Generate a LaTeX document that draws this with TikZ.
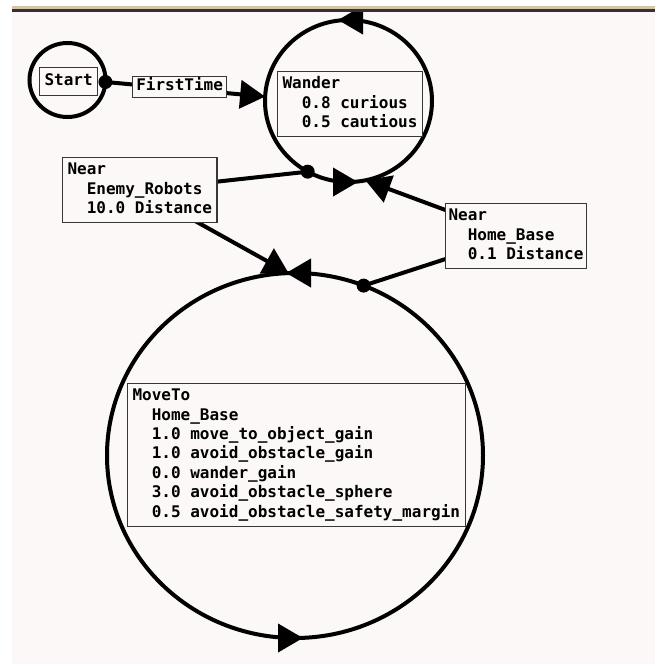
\documentclass[tikz,border=0pt]{standalone}
\usepackage{fontspec}
\setmonofont{DejaVu Sans Mono}
\usetikzlibrary{arrows.meta,shapes.geometric,calc}
\definecolor{paper}{RGB}{252,248,247}
\definecolor{tanband}{RGB}{214,196,168}
\definecolor{ruleline}{RGB}{50,50,50}
\definecolor{boxline}{RGB}{55,55,55}
\pgfdeclarelayer{bglayer}\pgfdeclarelayer{wires}\pgfsetlayers{bglayer,wires,main}
\newcommand\indt{\hphantom{00}}
\begin{document}
\begin{tikzpicture}[x=1pt,y=-1pt,
  state/.style={ellipse, draw, line width=4pt, inner sep=0pt, outer sep=0pt},
  lbl/.style={draw=boxline, line width=1.1pt, fill=paper, anchor=north west,
    font=\ttfamily\bfseries\fontsize{16}{19.4}\selectfont, inner xsep=5pt, inner ysep=3.5pt},
  multi/.style={lbl, align=left},
  wire/.style={line width=4pt, line cap=butt},
  arrowend/.style={-{Triangle[length=25pt,width=28pt]}},
  ]
\useasboundingbox (0,0) rectangle (655,664);
\begin{pgfonlayer}{bglayer}
  \fill[white] (0,0) rectangle (655,664);
  \fill[paper] (12,12) rectangle (655,664);
\end{pgfonlayer}

% states
\node[state, minimum width=76pt, minimum height=74pt] (startc) at (67.5,80) {};
\node[state, minimum width=167pt, minimum height=162pt] (wanderc) at (348.5,101) {};
\node[state, minimum width=376pt, minimum height=365pt] (movec) at (295,455.5) {};

% labels
\node[lbl, inner ysep=4.3pt] (startbox) at (39,67) {\strut Start};
\node[lbl, inner xsep=3.7pt, inner ysep=0.8pt] (ftbox) at (132,76) {\strut FirstTime};
\node[multi] (wbox) at (277,71) {\strut Wander\\\strut\indt0.8 curious\\\strut\indt0.5 cautious};
\node[multi] (nebox) at (62,157) {\strut Near\\\strut\indt Enemy\_Robots\\\strut\indt10.0 Distance};
\node[multi, inner xsep=3pt] (nhbox) at (445,203) {\strut Near\\\strut\indt Home\_Base\\\strut\indt0.1 Distance};
\node[multi] (mbox) at (127,383) {\strut MoveTo\\\strut\indt Home\_Base\\\strut\indt1.0 move\_to\_object\_gain\\\strut\indt1.0 avoid\_obstacle\_gain\\\strut\indt0.0 wander\_gain\\\strut\indt3.0 avoid\_obstacle\_sphere\\\strut\indt0.5 avoid\_obstacle\_safety\_margin};

% connectors
\begin{pgfonlayer}{wires}
  % Start -> Wander (FirstTime)
  \draw[wire, arrowend] (startc.-3) -- (wanderc.177);
  \fill (startc.-3) circle (7pt);
  % Wander -> MoveTo (Near Enemy_Robots)
  \draw[wire, arrowend] (wanderc.240.2) -- (nebox.center) -- (movec.92.8);
  \fill (wanderc.240.2) circle (7pt);
  % MoveTo -> Wander (Near Home_Base)
  \draw[wire, arrowend] (movec.68.4) -- (nhbox.center) -- (wanderc.282.3);
  \fill (movec.68.4) circle (7pt);
\end{pgfonlayer}

% arrows on the state circles
\draw[wire, arrowend] ([xshift=14pt]wanderc.north) -- ([xshift=-10.5pt]wanderc.north);
\draw[wire, arrowend] ([xshift=-15pt]wanderc.south) -- ([xshift=9.5pt]wanderc.south);
\draw[wire, arrowend] ([xshift=15pt]movec.north) -- ([xshift=-9pt]movec.north);
\draw[wire, arrowend] ([xshift=-17pt]movec.south) -- ([xshift=8pt]movec.south);

% window band on top
\fill[white] (0,0) rectangle (655,6);
\fill[tanband] (12,6) rectangle (655,9);
\fill[ruleline] (12,9) rectangle (655,12);
\end{tikzpicture}
\end{document}
